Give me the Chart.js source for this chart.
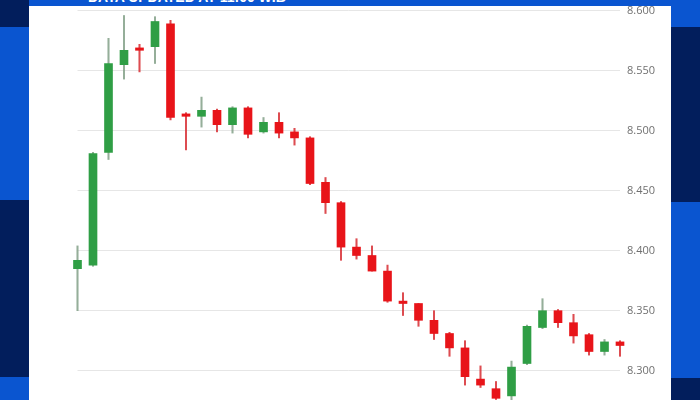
<!DOCTYPE html>
<html>
<head>
<meta charset="utf-8">
<script src="https://cdn.jsdelivr.net/npm/chart.js@4.4.1/dist/chart.umd.min.js"></script>
<style>
  html, body { margin:0; padding:0; width:700px; height:400px; overflow:hidden; background:#ffffff; }
  .bg { position:absolute; }
  #panel { position:absolute; left:29px; top:0; width:642px; height:400px; background:#ffffff; }
  #wrap { position:absolute; left:0; top:0; width:700px; height:441px; }
  #topbar { position:absolute; left:29px; top:0; width:642px; height:6px; background:#0a55d0; overflow:hidden; z-index:5; }
  #topbar span { position:absolute; left:59px; top:-11px; font:bold 14px "Liberation Sans", Arial, sans-serif; color:#ffffff; white-space:nowrap; }
</style>
</head>
<body>
<div class="bg" style="left:0;top:0;width:29px;height:27px;background:#021e5c"></div>
<div class="bg" style="left:0;top:27px;width:29px;height:173px;background:#0a55d0"></div>
<div class="bg" style="left:0;top:200px;width:29px;height:177px;background:#021e5c"></div>
<div class="bg" style="left:0;top:377px;width:29px;height:23px;background:#0a55d0"></div>
<div class="bg" style="left:671px;top:0;width:29px;height:27px;background:#0a55d0"></div>
<div class="bg" style="left:671px;top:27px;width:29px;height:175px;background:#021e5c"></div>
<div class="bg" style="left:671px;top:202px;width:29px;height:176px;background:#0a55d0"></div>
<div class="bg" style="left:671px;top:378px;width:29px;height:22px;background:#021e5c"></div>
<div id="panel"></div>
<div id="wrap"><canvas id="c"></canvas></div>
<div id="topbar"><span>DATA UPDATED AT 11:00 WIB</span></div>
<script>
const labels = ["1","2","3","4","5","6","7","8","9","10","11","12","13","14","15","16","17","18","19","20","21","22","23","24","25","26","27","28","29","30","31","32","33","34","35","36"];
const opens  = [8.385,8.388,8.482,8.555,8.569,8.570,8.589,8.514,8.512,8.517,8.505,8.519,8.499,8.507,8.499,8.494,8.457,8.440,8.403,8.396,8.383,8.358,8.356,8.342,8.331,8.319,8.293,8.285,8.279,8.306,8.336,8.350,8.340,8.330,8.316,8.324];
const closes = [8.392,8.481,8.556,8.567,8.567,8.591,8.511,8.512,8.517,8.505,8.519,8.497,8.507,8.498,8.494,8.456,8.440,8.403,8.396,8.383,8.358,8.356,8.342,8.331,8.319,8.295,8.288,8.277,8.303,8.337,8.350,8.340,8.329,8.316,8.324,8.321];
const highs  = [8.404,8.482,8.577,8.596,8.572,8.595,8.592,8.515,8.528,8.518,8.520,8.520,8.511,8.515,8.502,8.495,8.461,8.441,8.410,8.404,8.388,8.365,8.356,8.350,8.332,8.325,8.304,8.291,8.308,8.338,8.360,8.351,8.347,8.331,8.326,8.325];
const lows   = [8.350,8.387,8.476,8.543,8.549,8.556,8.509,8.484,8.503,8.499,8.498,8.494,8.498,8.494,8.488,8.455,8.431,8.392,8.393,8.383,8.357,8.346,8.337,8.326,8.312,8.288,8.286,8.276,8.274,8.305,8.335,8.336,8.323,8.313,8.313,8.312];
const yTicks = [8.250,8.300,8.350,8.400,8.450,8.500,8.550,8.600];

const UP = '#2f9e45', DOWN = '#e81419';
const UPW = 'rgba(130,160,135,0.85)', DOWNW = 'rgba(215,45,50,0.85)';
const isUp = i => closes[i] >= opens[i];

new Chart(document.getElementById('c'), {
  type: 'bar',
  data: {
    labels: labels,
    datasets: [
      {
        data: opens.map((o, i) => [o, closes[i]]),
        backgroundColor: ctx => isUp(ctx.dataIndex) ? UP : DOWN,
        barThickness: 8,
        minBarLength: 2,
        grouped: false,
        clip: false
      },
      {
        data: lows.map((l, i) => [l, highs[i]]),
        backgroundColor: ctx => isUp(ctx.dataIndex) ? UPW : DOWNW,
        barThickness: 1.4,
        grouped: false,
        clip: false
      }
    ]
  },
  options: {
    responsive: true,
    maintainAspectRatio: false,
    animation: false,
    events: [],
    layout: { padding: { left: 77.5, right: 0, top: 10.7, bottom: 10.3 } },
    plugins: { legend: { display: false }, tooltip: { enabled: false } },
    scales: {
      x: { display: false, offset: false, grid: { display: false } },
      y: {
        position: 'right',
        min: 8.25, max: 8.6,
        afterBuildTicks: s => { s.ticks = yTicks.map(v => ({ value: v })); },
        afterFit: s => { s.width = 80; s.paddingTop = 0; s.paddingBottom = 0; },
        border: { display: false },
        grid: { color: '#e6e6e6', lineWidth: 1, drawTicks: false },
        ticks: {
          padding: 7,
          color: '#707070',
          font: { family: '"Open Sans", "Noto Sans", sans-serif', size: 11 },
          callback: v => Number(v).toFixed(3)
        }
      }
    }
  }
});
</script>
</body>
</html>
